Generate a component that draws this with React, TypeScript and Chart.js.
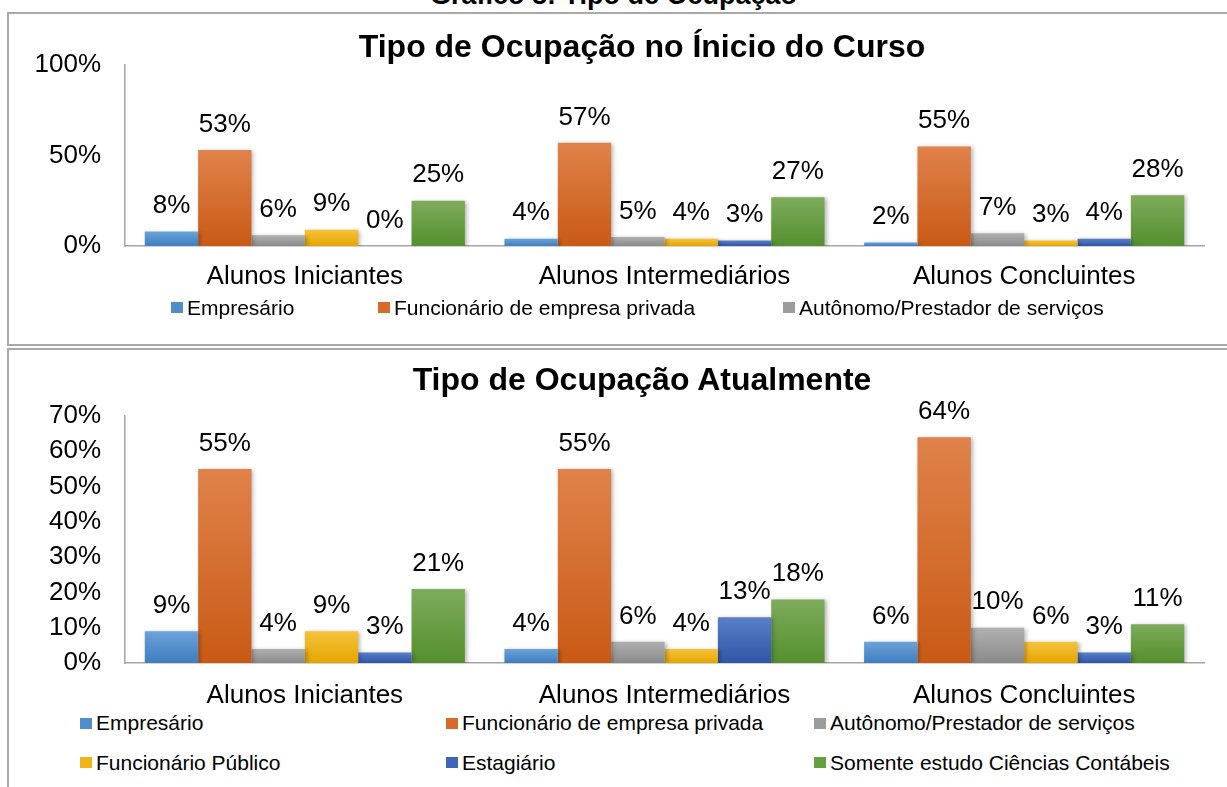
import React, { useEffect, useRef } from "react";
import { Chart, registerables } from "chart.js";

Chart.register(...registerables);

const FONT = "'Liberation Sans', Arial, Helvetica, sans-serif";

const pageTitle = "Gráfico 8: Tipo de Ocupação";
const titleInicio = "Tipo de Ocupação no Ínicio do Curso";
const titleAtual = "Tipo de Ocupação Atualmente";

const categories = ["Alunos Iniciantes", "Alunos Intermediários", "Alunos Concluintes"];
const seriesLabels = [
  "Empresário",
  "Funcionário de empresa privada",
  "Autônomo/Prestador de serviços",
  "Funcionário Público",
  "Estagiário",
  "Somente estudo Ciências Contábeis",
];

// Início do curso
const inicioEmpresario = [8, 4, 2];
const inicioPrivada = [53, 57, 55];
const inicioAutonomo = [6, 5, 7];
const inicioPublico = [9, 4, 3];
const inicioEstagiario = [0, 3, 4];
const inicioEstudo = [25, 27, 28];

// Atualmente
const atualEmpresario = [9, 4, 6];
const atualPrivada = [55, 55, 64];
const atualAutonomo = [4, 6, 10];
const atualPublico = [9, 4, 6];
const atualEstagiario = [3, 13, 3];
const atualEstudo = [21, 18, 11];

const inicioYTicks = [0, 50, 100];
const atualYTicks = [0, 10, 20, 30, 40, 50, 60, 70];

const topColors = ["#6ba3d9", "#e0824a", "#b0b0b0", "#f5c23c", "#5a7fc9", "#7dac5b"];
const bottomColors = ["#3f7dbf", "#c95a15", "#8a8a8a", "#e6a600", "#2f55a6", "#558f2e"];
const legendColors = ["#4f8dcb", "#d76a28", "#9c9c9c", "#efb418", "#3f66b6", "#65a040"];

type Spec = {
  series: number[][];
  yTicks: number[];
  padTop: number;
  xHeight: number;
  xPad: number;
};

function buildChart(canvas: HTMLCanvasElement, spec: Spec) {
  const yMax = spec.yTicks[spec.yTicks.length - 1];
  const decor = {
    id: "barDecor",
    beforeDatasetsDraw(chart: any) {
      const ctx = chart.ctx;
      ctx.save();
      ctx.shadowColor = "rgba(0,0,0,0.28)";
      ctx.shadowBlur = 4;
      ctx.shadowOffsetX = 2;
      ctx.shadowOffsetY = 1;
    },
    afterDatasetsDraw(chart: any) {
      const ctx = chart.ctx;
      ctx.restore();
      ctx.save();
      ctx.font = `26px ${FONT}`;
      ctx.fillStyle = "#000";
      ctx.textAlign = "center";
      ctx.textBaseline = "middle";
      chart.data.datasets.forEach((ds: any, i: number) => {
        const meta = chart.getDatasetMeta(i);
        meta.data.forEach((el: any, j: number) => {
          ctx.fillText(`${ds.data[j]}%`, el.x, el.y - 25.5);
        });
      });
      ctx.restore();
    },
  };

  return new Chart(canvas, {
    type: "bar",
    data: {
      labels: categories,
      datasets: spec.series.map((values, i) => ({
        label: seriesLabels[i],
        data: values,
        barPercentage: 1,
        categoryPercentage: 0.89,
        borderWidth: 0,
        backgroundColor: (c: any) => {
          const chart = c.chart;
          if (c.type !== "data" || !chart.chartArea || !chart.scales.y) return legendColors[i];
          const y = chart.scales.y;
          const top = y.getPixelForValue(c.raw);
          const base = y.getPixelForValue(0);
          if (!(base - top > 0.5)) return bottomColors[i];
          const g = chart.ctx.createLinearGradient(0, top, 0, base);
          g.addColorStop(0, topColors[i]);
          g.addColorStop(1, bottomColors[i]);
          return g;
        },
      })),
    },
    options: {
      responsive: false,
      animation: false,
      devicePixelRatio: 1,
      layout: { padding: { left: 0, right: 21, top: spec.padTop, bottom: 0 } },
      plugins: {
        legend: { display: false },
        tooltip: { enabled: false },
        title: { display: false },
      },
      scales: {
        x: {
          grid: { display: false, drawTicks: false },
          border: { display: true, color: "#a6a6a6", width: 1.5 },
          afterFit: (s: any) => {
            s.height = spec.xHeight;
          },
          ticks: {
            padding: spec.xPad,
            color: "#000",
            font: { family: FONT, size: 26 },
            maxRotation: 0,
            autoSkip: false,
          },
        },
        y: {
          min: 0,
          max: yMax,
          afterBuildTicks: (s: any) => {
            s.ticks = spec.yTicks.map((v) => ({ value: v }));
          },
          afterFit: (s: any) => {
            s.width = 116;
          },
          grid: { display: false, drawTicks: false },
          border: { display: true, color: "#a6a6a6", width: 1.5 },
          ticks: {
            padding: 24,
            color: "#000",
            font: { family: FONT, size: 26 },
            callback: (v: any) => `${v}%`,
          },
        },
      },
    },
    plugins: [decor],
  } as any);
}

function ChartCanvas(props: { spec: Spec; left: number; top: number; width: number; height: number }) {
  const ref = useRef<HTMLCanvasElement | null>(null);
  useEffect(() => {
    if (!ref.current) return;
    const chart = buildChart(ref.current, props.spec);
    return () => chart.destroy();
  }, []);
  return (
    <canvas
      ref={ref}
      width={props.width}
      height={props.height}
      style={{ position: "absolute", left: props.left, top: props.top, width: props.width, height: props.height }}
    />
  );
}

type LegendItem = { idx: number; left: number; center: number };

function Legend(props: { items: LegendItem[] }) {
  return (
    <>
      {props.items.map((it) => (
        <div
          key={it.idx + "-" + it.center}
          style={{
            position: "absolute",
            left: it.left,
            top: it.center - 12,
            height: 24,
            lineHeight: "24px",
            display: "flex",
            alignItems: "center",
            whiteSpace: "nowrap",
            fontFamily: FONT,
            fontSize: 21,
            color: "#000",
          }}
        >
          <span
            style={{
              display: "inline-block",
              width: 12,
              height: 11,
              marginRight: 4,
              background: legendColors[it.idx],
            }}
          />
          <span>{seriesLabels[it.idx]}</span>
        </div>
      ))}
    </>
  );
}

function ChartTitle(props: { text: string; center: number }) {
  return (
    <div
      style={{
        position: "absolute",
        left: 0,
        width: 1284,
        top: props.center - 19,
        height: 38,
        lineHeight: "38px",
        textAlign: "center",
        fontFamily: FONT,
        fontWeight: "bold",
        fontSize: 32,
        color: "#000",
        whiteSpace: "nowrap",
      }}
    >
      {props.text}
    </div>
  );
}

const specInicio: Spec = {
  series: [inicioEmpresario, inicioPrivada, inicioAutonomo, inicioPublico, inicioEstagiario, inicioEstudo],
  yTicks: inicioYTicks,
  padTop: 51,
  xHeight: 54,
  xPad: 15.4,
};

const specAtual: Spec = {
  series: [atualEmpresario, atualPrivada, atualAutonomo, atualPublico, atualEstagiario, atualEstudo],
  yTicks: atualYTicks,
  padTop: 66,
  xHeight: 47,
  xPad: 17.4,
};

export default function App() {
  return (
    <div
      style={{
        position: "absolute",
        left: 0,
        top: 0,
        width: 1227,
        height: 787,
        overflow: "hidden",
        background: "#fff",
        fontFamily: FONT,
      }}
    >
      <div
        style={{
          position: "absolute",
          left: 0,
          top: -18,
          width: 1227,
          textAlign: "center",
          fontWeight: "bold",
          fontSize: 27,
          lineHeight: "27px",
          color: "#000",
        }}
      >
        {pageTitle}
      </div>
      <div
        style={{
          position: "absolute",
          left: 7,
          top: 12,
          width: 1260,
          height: 330,
          border: "2px solid #a8a8a8",
        }}
      />
      <div
        style={{
          position: "absolute",
          left: 7,
          top: 348,
          width: 1260,
          height: 500,
          border: "2px solid #a8a8a8",
        }}
      />
      <ChartCanvas spec={specInicio} left={9} top={14} width={1216} height={286} />
      <ChartTitle text={titleInicio} center={46} />
      <Legend
        items={[
          { idx: 0, left: 171, center: 307.5 },
          { idx: 1, left: 378, center: 307.5 },
          { idx: 2, left: 783, center: 307.5 },
        ]}
      />
      <ChartCanvas spec={specAtual} left={9} top={350} width={1216} height={360} />
      <ChartTitle text={titleAtual} center={379} />
      <Legend
        items={[
          { idx: 0, left: 80, center: 723 },
          { idx: 1, left: 446, center: 723 },
          { idx: 2, left: 814, center: 723 },
          { idx: 3, left: 80, center: 762.5 },
          { idx: 4, left: 446, center: 762.5 },
          { idx: 5, left: 814, center: 762.5 },
        ]}
      />
    </div>
  );
}
